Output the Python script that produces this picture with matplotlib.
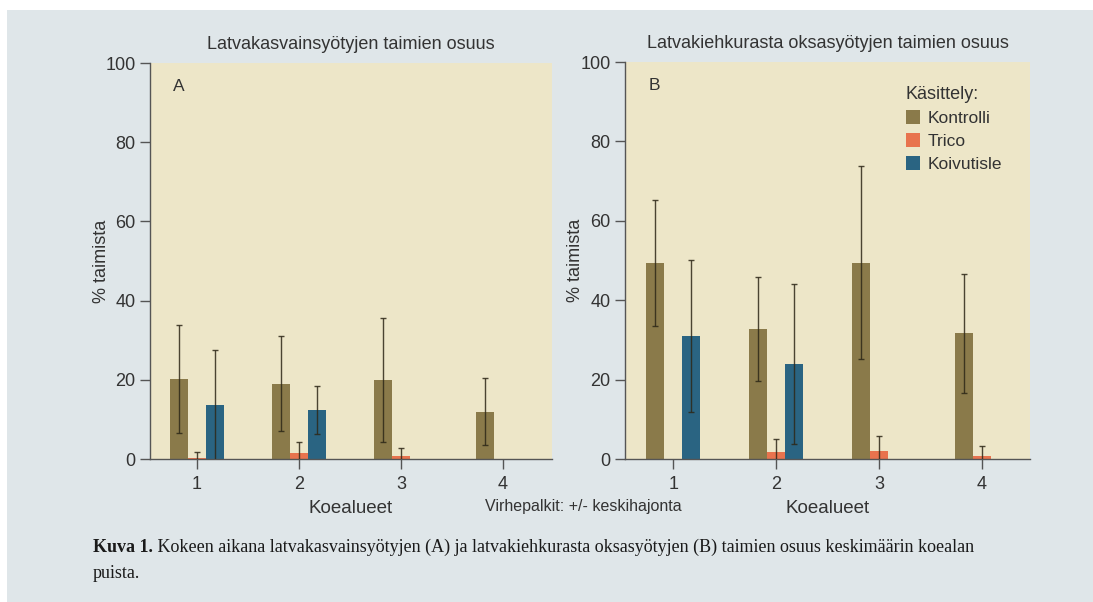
import matplotlib.pyplot as plt
import numpy as np
from matplotlib.patches import Rectangle

plt.rcParams['font.family'] = ['Liberation Sans', 'DejaVu Sans']

categories = [1, 2, 3, 4]
treatments = ['Kontrolli', 'Trico', 'Koivutisle']
colors = ['#8a7a4a', '#e8734e', '#2a6482']

# A: latvakasvainsyötyjen taimien osuus (%)
a_means = [[20.2, 19.0, 20.0, 12.0],
           [0.3, 1.4, 0.7, 0.0],
           [13.6, 12.4, 0.0, 0.0]]
a_sd = [[13.7, 12.0, 15.6, 8.4],
        [1.5, 2.8, 2.0, 0.0],
        [14.0, 6.1, 0.0, 0.0]]

# B: latvakiehkurasta oksasyötyjen taimien osuus (%)
b_means = [[49.3, 32.7, 49.5, 31.7],
           [0.0, 1.7, 1.9, 0.7],
           [31.0, 23.9, 0.0, 0.0]]
b_sd = [[15.9, 13.1, 24.3, 15.0],
        [0.0, 3.3, 3.8, 2.5],
        [19.2, 20.2, 0.0, 0.0]]

fig = plt.figure(figsize=(10.93, 6.02), dpi=100, facecolor='white')
# harmaa tausta
fig.patches.append(Rectangle((7 / 1093, 0), 1, 1 - 10 / 602, transform=fig.transFigure,
                             facecolor='#dfe6e9', edgecolor='none', zorder=-5))

txt = '#333333'
width = 0.176


def draw_panel(ax, means, sds, title, letter, xlim):
    x = np.array(categories, dtype=float)
    for i in range(3):
        pos = x + (i - 1) * width
        ax.bar(pos, means[i], width=width, color=colors[i], label=treatments[i], zorder=2)
        m = np.array(means[i])
        s = np.array(sds[i])
        ok = s > 0
        ax.errorbar(pos[ok], m[ok], yerr=s[ok], fmt='none', ecolor='#2e2818', alpha=0.85,
                    elinewidth=1, capsize=2, capthick=1, zorder=3)
    ax.set_facecolor('#ede6c8')
    ax.set_xlim(xlim)
    ax.set_ylim(0, 100)
    ax.set_yticks([0, 20, 40, 60, 80, 100])
    ax.set_xticks(categories)
    for sp in ['top', 'right']:
        ax.spines[sp].set_visible(False)
    for sp in ['left', 'bottom']:
        ax.spines[sp].set_color('#555555')
        ax.spines[sp].set_linewidth(1)
    ax.tick_params(colors='#555555', labelcolor=txt, labelsize=13, length=7, width=1)
    ax.tick_params(axis='x', pad=5)
    ax.set_ylabel('% taimista', fontsize=13, color=txt)
    ax.yaxis.set_label_coords(-0.1, 0.5)
    ax.set_xlabel('Koealueet', fontsize=13.5, color=txt, labelpad=5)
    ax.set_title(title, fontsize=13, color=txt, pad=10)
    ax.text(0.058, 0.94, letter, transform=ax.transAxes, fontsize=12.5, color=txt, va='center')


ax1 = fig.add_axes([0.1372, 0.2375, 0.3678, 0.6578])
draw_panel(ax1, a_means, a_sd, 'Latvakasvainsyötyjen taimien osuus', 'A', (0.54, 4.48))

ax2 = fig.add_axes([0.5718, 0.2375, 0.3706, 0.6595])
draw_panel(ax2, b_means, b_sd, 'Latvakiehkurasta oksasyötyjen taimien osuus', 'B', (0.53, 4.47))

leg = ax2.legend(title='Käsittely:', loc='upper left', bbox_to_anchor=(0.655, 0.98),
                 frameon=False, fontsize=12.5, title_fontsize=13, handlelength=0.8,
                 handleheight=0.9, handletextpad=0.45, labelspacing=0.4, alignment='left')
for t in leg.get_texts():
    t.set_color(txt)
leg.get_title().set_color(txt)

fig.text(583 / 1093, 1 - 507 / 602, 'Virhepalkit: +/- keskihajonta', fontsize=11.5,
         color=txt, ha='center', va='center')

# kuvateksti
serif = ['Liberation Serif', 'DejaVu Serif']
t1 = fig.text(93 / 1093, 1 - 547 / 602, 'Kuva 1.', fontsize=13, fontweight='bold',
              family=serif, color='#1a1a1a', va='center')
ax2.annotate(' Kokeen aikana latvakasvainsyötyjen (A) ja latvakiehkurasta oksasyötyjen (B) '
             'taimien osuus keskimäärin koealan', xy=(1, 0.5), xycoords=t1, va='center',
             fontsize=13, family=serif, color='#1a1a1a', annotation_clip=False)
fig.text(93 / 1093, 1 - 573 / 602, 'puista.', fontsize=13,
         family=serif, color='#1a1a1a', va='center')

plt.savefig('out.png', dpi=100, facecolor=fig.get_facecolor())
